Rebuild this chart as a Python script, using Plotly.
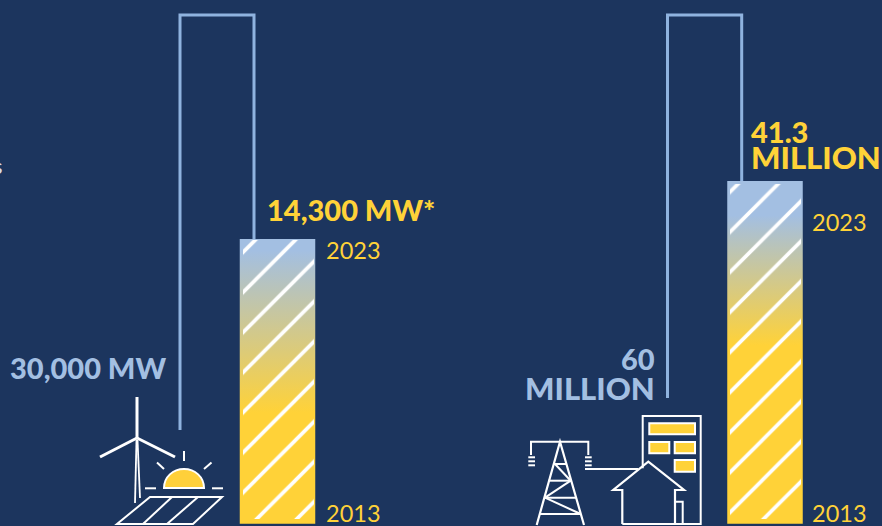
import plotly.graph_objects as go

W, H = 882, 526
NAVY, YELLOW, BLUE, LINE, WHITE = "#1C355E", "#FFD238", "#A3BFE2", "#8FB3DF", "#FFFFFF"

# data
years = ["2013", "2023"]
capacity_mw = [30000, 14300]
customers_million = [60, 41.3]
capacity_labels = ["30,000 MW", "14,300 MW*"]
customers_numbers = ["60", "41.3"]
customers_unit = "MILLION"

# geometry
BOTTOM, LEFT_TOP, RIGHT_TOP = 523.8, 239.0, 181.0
LEFT_C, RIGHT_C, BAR_W = 277.5, 765.0, 75.5
HATCH_W = 71.0
HATCH_BOTTOM_INSET, HATCH_TOP_INSET_L, HATCH_TOP_INSET_R = 5.0, 0.8, 3.0
mw_per_px = capacity_mw[1] / (BOTTOM - LEFT_TOP)
mil_per_px = customers_million[1] / (BOTTOM - RIGHT_TOP)
mw_range = [-(H - BOTTOM) * mw_per_px, BOTTOM * mw_per_px]
mil_range = [-(H - BOTTOM) * mil_per_px, BOTTOM * mil_per_px]

fig = go.Figure()


def gradient(center, value, yaxis, stops):
    fig.add_trace(go.Scatter(
        x=[center - BAR_W / 2, center + BAR_W / 2, center + BAR_W / 2, center - BAR_W / 2],
        y=[0, 0, value, value], mode="lines", fill="toself",
        line=dict(width=0), xaxis="x", yaxis=yaxis, showlegend=False, hoverinfo="skip",
        fillgradient=dict(type="vertical", colorscale=stops),
    ))


def hatch(center, value, per_px, top_inset, xaxis, yaxis, name):
    base = HATCH_BOTTOM_INSET * per_px
    fig.add_trace(go.Bar(
        x=[center], y=[value - top_inset * per_px - base], base=[base], width=[HATCH_W],
        name=name, xaxis=xaxis, yaxis=yaxis, showlegend=False,
        marker=dict(color="rgba(0,0,0,0)", line=dict(width=0),
                    pattern=dict(shape="/", size=28.33, solidity=0.13, fgcolor=WHITE,
                                 bgcolor="rgba(0,0,0,0)", fgopacity=1)),
    ))


gradient(LEFT_C, capacity_mw[1], "y", [[0, YELLOW], [0.39, YELLOW], [0.96, BLUE], [1, BLUE]])
gradient(RIGHT_C, customers_million[1], "y2", [[0, YELLOW], [0.52, YELLOW], [0.90, BLUE], [1, BLUE]])
hatch(LEFT_C, capacity_mw[1], mw_per_px, HATCH_TOP_INSET_L, "x2", "y3", "Capacity 2023")
hatch(RIGHT_C, customers_million[1], mil_per_px, HATCH_TOP_INSET_R, "x3", "y4", "Customers 2023")

shapes = []


def path(d, width=2.4, color=WHITE, fill=None):
    s = dict(type="path", path=d, xref="x4", yref="y5", line=dict(color=color, width=width), layer="below")
    if fill:
        s["fillcolor"] = fill
    shapes.append(s)


# brackets
path("M180,430 L180,15 L254,15 L254,240", 3, LINE)
path("M667.5,398 L667.5,15 L741.7,15 L741.7,182", 3, LINE)

# turbine
path("M135,503 L136.5,440", 1.8)
path("M140,498 L137.5,440", 1.8)
path("M137,438 L137,397", 3)
path("M137,438 L100,457", 3)
path("M137,438 L175,457", 3)
# solar panel
path("M150,497 L222,497 L193,524 L117,524 Z", 2)
path("M172,497 L143,524", 2)
path("M198,497 L167,524", 2)
# sun
path("M164,488 C164,477 173,469 184,469 C195,469 204,477 204,488 Z", 2, WHITE, "#FFD03A")
for d in ["M184,451 L184,461", "M157,462.5 L164,469", "M211.5,462.5 L204,469",
          "M145,488.3 L156,488.3", "M212,488.3 L223,488.3"]:
    path(d, 2)

# pylon
P = lambda X, Y: f"{510 + X / 3:.1f},{340 + Y / 3:.1f}"
path(f"M{P(63,345)} L{P(63,305)} L{P(235,305)} L{P(235,345)}", 2)
path(f"M{P(80,555)} L{P(150,305)} L{P(222,555)}", 2.2)
for a, b in [((130, 372), (170, 372)), ((115, 422), (185, 422)), ((103, 473), (200, 473)), ((90, 522), (212, 522)),
             ((135, 372), (182, 422)), ((182, 422), (105, 473)), ((105, 473), (212, 522)),
             ((225, 387), (385, 387))]:
    path(f"M{P(*a)} L{P(*b)}", 2)
for cx in (65, 235):
    for y in (352, 364, 376):
        path(f"M{P(cx - 10, y)} L{P(cx + 10, y)}", 2)
# building + house
path(f"M{P(398,385)} L{P(398,228)} L{P(572,228)} L{P(572,552)} L{P(337,552)}", 2)
for x0, y0, x1, y1 in [(418, 250, 555, 283), (418, 306, 478, 340), (494, 306, 555, 340), (494, 360, 555, 395)]:
    path(f"M{P(x0,y0)} L{P(x1,y0)} L{P(x1,y1)} L{P(x0,y1)} Z", 2, WHITE, YELLOW)
path(f"M{P(337,552)} L{P(337,450)} L{P(310,450)} L{P(415,365)} L{P(522,450)} L{P(495,450)} L{P(495,552)}", 2.2)
path(f"M{P(495,485)} L{P(518,485)} L{P(518,552)}", 2)

# text
FONT = "Lato"
notes = []


def text(x, y, s, size, color, anchor="left", weight=900):
    notes.append(dict(x=x, y=y, xref="x4", yref="y5", text=s, showarrow=False,
                      xanchor=anchor, yanchor="middle", align=anchor,
                      font=dict(family=FONT, size=size, color=color, weight=weight)))


text(5, 165, "s", 22, "#D9DEE8", "right", 400)
text(7.5, 367, capacity_labels[0], 29, BLUE)
text(265, 209, capacity_labels[1], 29, YELLOW)
text(657, 358, customers_numbers[0], 29, BLUE, "right")
text(657, 388, customers_unit, 31, BLUE, "right")
text(749, 131, customers_numbers[1], 29, YELLOW)
text(749, 157, customers_unit, 31, YELLOW)
text(324, 250, years[1], 23.5, YELLOW, weight=400)
text(324, 513, years[0], 23.5, YELLOW, weight=400)
text(810, 222, years[1], 23.5, YELLOW, weight=400)
text(810, 513, years[0], 23.5, YELLOW, weight=400)

hidden = dict(visible=False, fixedrange=True)
LEFT_SHIFT, RIGHT_SHIFT = 14.5, 0.5
fig.update_layout(
    width=W, height=H, margin=dict(l=0, r=0, t=0, b=0), autosize=False,
    paper_bgcolor=NAVY, plot_bgcolor="rgba(0,0,0,0)", showlegend=False, bargap=0, barmode="overlay",
    shapes=shapes, annotations=notes,
    xaxis=dict(range=[0, W], domain=[0, 1], **hidden),
    yaxis=dict(range=mw_range, domain=[0, 1], **hidden),
    yaxis2=dict(range=mil_range, overlaying="y", **hidden),
    xaxis2=dict(range=[LEFT_SHIFT, W], domain=[LEFT_SHIFT / W, 1], anchor="y3", **hidden),
    xaxis3=dict(range=[RIGHT_SHIFT, W], domain=[RIGHT_SHIFT / W, 1], anchor="y4", **hidden),
    yaxis3=dict(range=mw_range, domain=[0, 1], anchor="x2", **hidden),
    yaxis4=dict(range=mil_range, domain=[0, 1], anchor="x3", **hidden),
    xaxis4=dict(range=[0, W], overlaying="x", **hidden),
    yaxis5=dict(range=[H, 0], overlaying="y", **hidden),
)
fig.write_html("out.html", config=dict(displayModeBar=False),
               post_script="document.body.style.margin='0';document.body.style.background='#1C355E';document.body.style.overflow='hidden';")
